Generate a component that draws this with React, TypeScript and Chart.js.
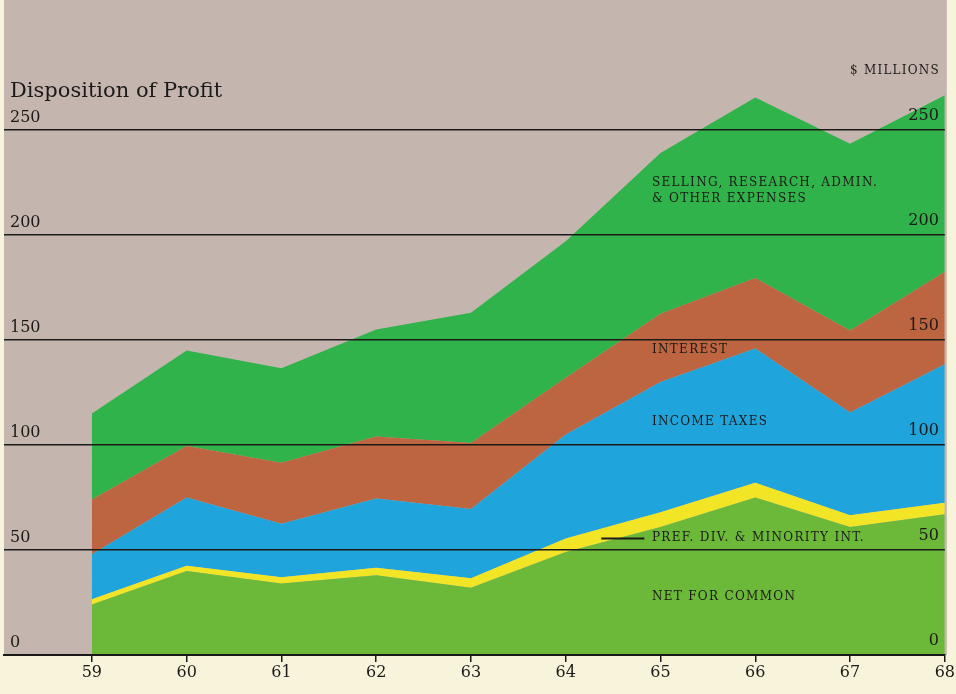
import React, { useEffect, useRef } from "react";
import { Chart, registerables } from "chart.js";

Chart.register(...registerables);

const years = [59, 60, 61, 62, 63, 64, 65, 66, 67, 68];
const netForCommon = [24, 40, 34, 38, 32, 49, 61, 75, 61, 67];
const prefDivMinority = [2.5, 2.5, 3, 3.5, 4.5, 6.5, 7, 7, 5.5, 5.5];
const incomeTaxes = [21.5, 32.5, 25.5, 33, 33, 49.5, 62, 64, 49, 66];
const interest = [26, 24.5, 29, 29.5, 31.5, 27, 32.5, 33.5, 39, 44];
const sellingEtc = [41, 45.5, 45, 51, 62, 65, 76.5, 86, 89, 84];
const yTicks = [0, 50, 100, 150, 200, 250];

const seriesNames = [
  "NET FOR COMMON",
  "PREF. DIV. & MINORITY INT.",
  "INCOME TAXES",
  "INTEREST",
  "SELLING, RESEARCH, ADMIN. & OTHER EXPENSES",
];
const seriesColors = ["#6cb93a", "#f2e526", "#1fa4dc", "#bd6440", "#2fb34a"];

const TAUPE = "#c4b6ae";
const CREAM = "#f8f4dc";
const INK = "#1c1a18";
const SERIF = "'DejaVu Serif', 'Liberation Serif', serif";

const backgroundPlugin = {
  id: "bgPaper",
  beforeDraw(chart: any) {
    const { ctx, chartArea } = chart;
    ctx.save();
    ctx.fillStyle = CREAM;
    ctx.fillRect(0, 0, chart.width, chart.height);
    ctx.fillStyle = TAUPE;
    ctx.fillRect(chartArea.left, 0, chartArea.right - chartArea.left + 2, chartArea.bottom);
    ctx.restore();
  },
};

const annotationPlugin = {
  id: "annotations",
  afterDraw(chart: any) {
    const { ctx, chartArea } = chart;
    const xs = chart.scales.x;
    const ys = chart.scales.y;
    ctx.save();
    // Title
    ctx.fillStyle = INK;
    ctx.font = `21px ${SERIF}`;
    ctx.textAlign = "left";
    ctx.textBaseline = "middle";
    ctx.fillText("Disposition of Profit", chartArea.left + 6, ys.getPixelForValue(268.5));

    // $ MILLIONS
    ctx.font = `12px ${SERIF}`;
    (ctx as any).letterSpacing = "1.2px";
    ctx.textAlign = "right";
    ctx.fillText("$ MILLIONS", chartArea.right - 5, ys.getPixelForValue(278));

    // Series labels
    ctx.textAlign = "left";
    (ctx as any).letterSpacing = "1.3px";
    ctx.font = `12px ${SERIF}`;
    const lx = xs.getPixelForValue(64.91);
    ctx.fillText("SELLING, RESEARCH, ADMIN.", lx, ys.getPixelForValue(224.8));
    ctx.fillText("& OTHER EXPENSES", lx, ys.getPixelForValue(217.2));
    ctx.fillText(seriesNames[3], lx, ys.getPixelForValue(145.2));
    ctx.fillText(seriesNames[2], lx, ys.getPixelForValue(111));
    const py = ys.getPixelForValue(56);
    ctx.fillText(seriesNames[1], lx, py);
    ctx.fillText(seriesNames[0], lx, ys.getPixelForValue(27.6));

    // leader line for PREF
    ctx.strokeStyle = INK;
    ctx.lineWidth = 2;
    ctx.beginPath();
    ctx.moveTo(xs.getPixelForValue(64.375), py + 1);
    ctx.lineTo(xs.getPixelForValue(64.83), py + 1);
    ctx.stroke();
    ctx.restore();
  },
};

export default function App() {
  const ref = useRef<HTMLCanvasElement | null>(null);

  useEffect(() => {
    if (!ref.current) return;
    const layers = [netForCommon, prefDivMinority, incomeTaxes, interest, sellingEtc];
    const datasets = layers.map((vals, i) => ({
      label: seriesNames[i],
      data: years.map((yr, j) => ({ x: yr, y: vals[j] })),
      backgroundColor: seriesColors[i],
      borderColor: seriesColors[i],
      borderWidth: 0,
      pointRadius: 0,
      tension: 0,
      fill: i === 0 ? "origin" : "-1",
    }));

    const chart = new Chart(ref.current, {
      type: "line",
      data: { datasets },
      plugins: [backgroundPlugin, annotationPlugin],
      options: {
        animation: false,
        responsive: false,
        devicePixelRatio: 1,
        layout: { padding: { top: 25, left: 4, right: 10, bottom: 0 } },
        plugins: {
          legend: { display: false },
          tooltip: { enabled: false },
          title: { display: false },
        },
        scales: {
          x: {
            type: "linear",
            min: 58.073,
            max: 68,
            afterBuildTicks: (scale: any) => {
              scale.ticks = years.map((v) => ({ value: v }));
            },
            afterFit: (scale: any) => {
              scale.height = 39;
            },
            ticks: {
              color: INK,
              font: { family: SERIF, size: 16 },
              padding: 1,
              maxRotation: 0,
              autoSkip: false,
              callback: (v: any) => String(v),
            },
            grid: {
              drawOnChartArea: false,
              drawTicks: true,
              tickLength: 7,
              color: INK,
              lineWidth: 1.5,
            },
            border: { display: true, color: INK, width: 2, z: 2 },
          },
          y: {
            type: "linear",
            position: "left",
            stacked: true,
            min: 0,
            max: 300,
            afterBuildTicks: (scale: any) => {
              scale.ticks = yTicks.map((v) => ({ value: v }));
            },
            afterFit: (scale: any) => {
              scale.width = 0;
            },
            ticks: {
              mirror: true,
              padding: 6,
              labelOffset: -12,
              color: INK,
              font: { family: SERIF, size: 16 },
              z: 3,
            },
            grid: { color: INK, lineWidth: 1.5, drawTicks: false, z: 1 },
            border: { display: false },
          },
          y2: {
            type: "linear",
            position: "right",
            min: 0,
            max: 300,
            afterBuildTicks: (scale: any) => {
              scale.ticks = yTicks.map((v) => ({ value: v }));
            },
            afterFit: (scale: any) => {
              scale.width = 0;
            },
            ticks: {
              mirror: true,
              padding: -6,
              labelOffset: -14,
              color: INK,
              font: { family: SERIF, size: 16 },
              z: 3,
            },
            grid: { display: false, drawTicks: false },
            border: { display: false },
          },
        },
      } as any,
    });
    return () => chart.destroy();
  }, []);

  return (
    <div style={{ position: "fixed", left: 0, top: 0, width: 956, height: 694, background: CREAM }}>
      <canvas ref={ref} width={956} height={694} style={{ width: 956, height: 694, display: "block" }} />
    </div>
  );
}
